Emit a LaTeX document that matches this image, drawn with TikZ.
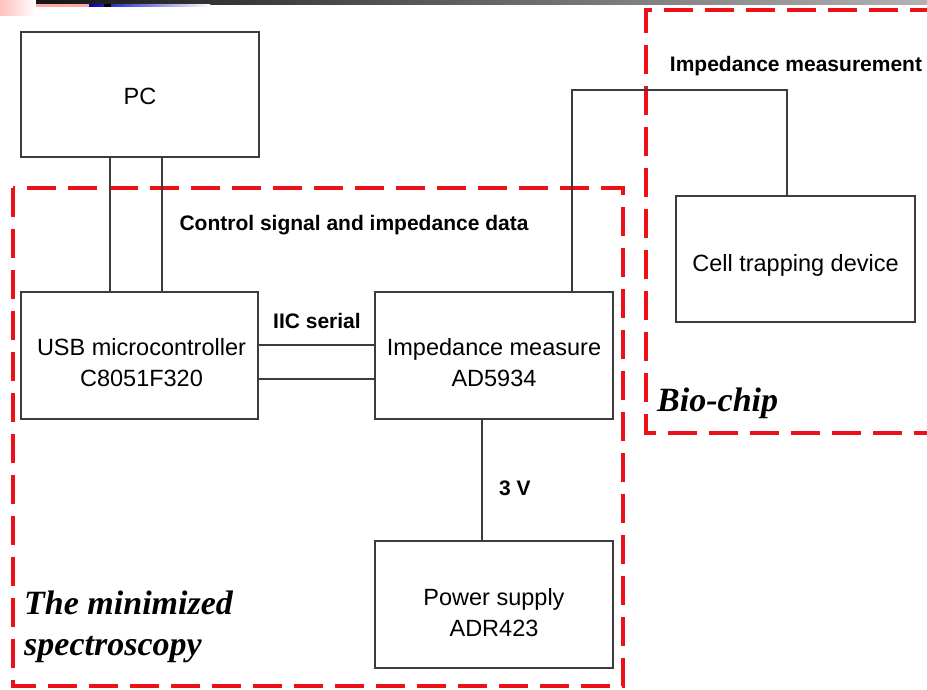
\documentclass[tikz,border=0pt]{standalone}
\usepackage{fontspec}
\setmainfont{Liberation Sans}
\newfontfamily\titleserif{Liberation Serif}
\definecolor{dashred}{RGB}{236,16,24}
\definecolor{boxgray}{RGB}{60,60,60}
\tikzset{
  blk/.style={draw=boxgray, line width=1.3pt, rectangle, inner sep=0pt},
  blktxt/.style={inner sep=0pt, align=center, font=\fontsize{23.5}{31}\selectfont},
  wire/.style={draw=boxgray, line width=1.2pt},
  lbl/.style={inner sep=0pt, font=\bfseries\fontsize{21}{24}\selectfont},
  grp/.style={draw=dashred, line width=4pt, dash pattern=on 29pt off 12pt},
  grplbl/.style={inner sep=0pt, align=left, font=\titleserif\bfseries\itshape\fontsize{34}{41}\selectfont}
}
\begin{document}
\begin{tikzpicture}[x=1pt,y=-1pt]
\useasboundingbox (0,0) rectangle (927,689);
\clip (0,0) rectangle (927,689);
% slide header remnants
\shade[left color=red!25, right color=white] (0,0) rectangle (36,15);
\shade[left color=black!92, right color=black!30] (36,0) rectangle (927,4);
\fill[red!35] (36,4) rectangle (89,6.5);
\shade[left color=blue!75!black, right color=white] (89,4) rectangle (210,6.5);
\fill[black] (104,4) rectangle (111,6.5);

% group frames
\draw[grp] (13,188) rectangle (623,686);
\draw[grp] (980,10) -- (646,10) -- (646,433) -- (980,433);

% blocks
\node[blk, minimum width=238pt, minimum height=125pt] (pc) at (140,94.5) {};
\node[blk, minimum width=237pt, minimum height=127pt] (usb) at (139.5,355.5) {};
\node[blk, minimum width=238pt, minimum height=127pt] (imp) at (494,355.5) {};
\node[blk, minimum width=238pt, minimum height=127pt] (pwr) at (494,604.5) {};
\node[blk, minimum width=239pt, minimum height=126pt] (cell) at (795.5,259) {};

\node[blktxt, yshift=-2pt] (pctxt) at (pc.center) {PC};
\node[blktxt, yshift=-7pt, xshift=2pt] (usbtxt) at (usb.center) {USB microcontroller\\C8051F320};
\node[blktxt, yshift=-7pt] (imptxt) at (imp.center) {Impedance measure\\AD5934};
\node[blktxt, yshift=-8pt] (pwrtxt) at (pwr.center) {Power supply\\ADR423};
\node[blktxt, yshift=-6pt] (celltxt) at (cell.center) {Cell trapping device};

% helper coordinates
\coordinate (xa) at (110,0);
\coordinate (xb) at (162,0);
\coordinate (ya) at (0,345);
\coordinate (yb) at (0,379);
\coordinate (xc) at (482,0);
\coordinate (elbowA) at (572,90);
\coordinate (elbowB) at (787,90);

% connectors
\draw[wire] (xa |- pc.south) -- (xa |- usb.north);
\draw[wire] (xb |- pc.south) -- (xb |- usb.north);
\draw[wire] (usb.east |- ya) -- (imp.west |- ya);
\draw[wire] (usb.east |- yb) -- (imp.west |- yb);
\draw[wire] (xc |- imp.south) -- (xc |- pwr.north);
\draw[wire] (elbowA |- imp.north) -- (elbowA) -- (elbowB) -- (elbowB |- cell.north);

% labels
\node[lbl] (ctl) at (354,225) {Control signal and impedance data};
\node[lbl] (iic) at (317,321) {IIC serial};
\node[lbl] (volt) at (515,488) {3 V};
\node[lbl] (imeas) at (796,66) {Impedance measurement};
\node[grplbl, anchor=west] (bio) at (657,403) {Bio-chip};
\node[grplbl, anchor=west] (spec) at (24,627) {The minimized\\spectroscopy};
\end{tikzpicture}
\end{document}
